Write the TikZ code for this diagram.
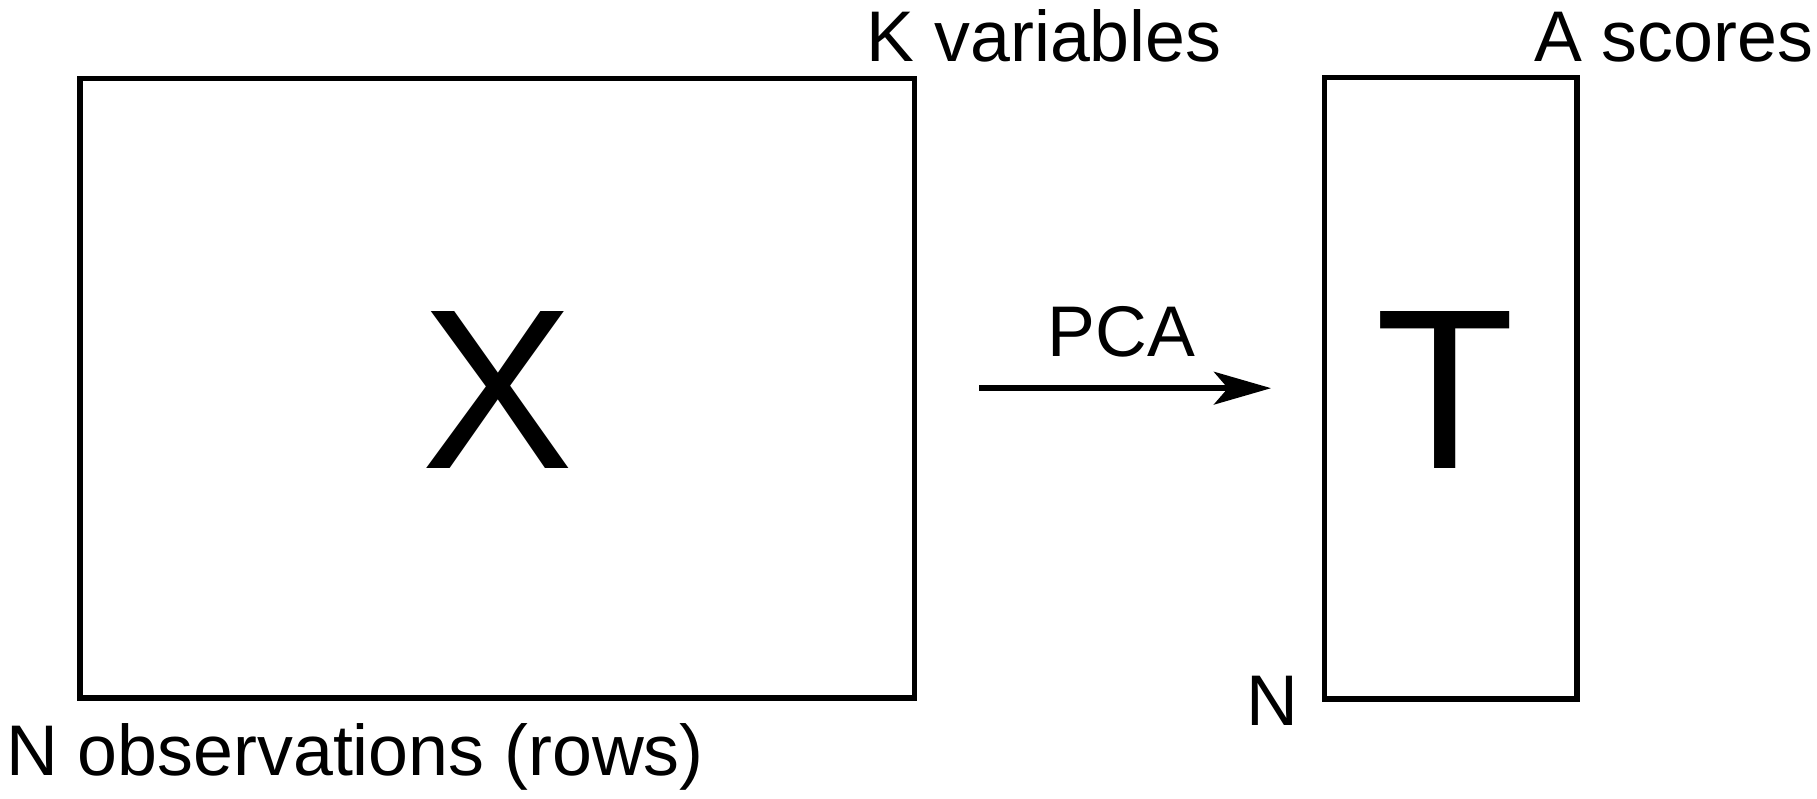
\documentclass[tikz,border=0pt]{standalone}
\usepackage{fontspec}
\setmainfont{Liberation Sans}
\usetikzlibrary{arrows.meta}
\begin{document}
\begin{tikzpicture}[x=0.01cm,y=-0.01cm,
  matbox/.style={draw=black,line width=1.4pt,inner sep=0pt,outer sep=0pt,rectangle},
  lbl/.style={inner sep=0pt,outer sep=0pt,font=\fontsize{17.6}{20}\selectfont},
  big/.style={inner sep=0pt,outer sep=0pt,font=\fontsize{56}{60}\selectfont}]
\useasboundingbox (0,0) rectangle (1568,689);
\node[matbox,minimum width=7.2cm,minimum height=5.34cm] (xbox) at (429,335) {};
\node[matbox,minimum width=2.18cm,minimum height=5.36cm] (tbox) at (1252,335) {};
\node[big,anchor=base] (xl) at (429,404) {X};
\node[big,anchor=base] (tl) at (1247,404) {T};
\node[lbl,anchor=base west] (kvar) at (748,53) {K variables};
\node[lbl,anchor=base west] (asc) at (1324,53) {A scores};
\node[lbl,anchor=base] (pca) at (968,308) {PCA};
\node[lbl,anchor=base west] (nt) at (1076,626) {N};
\node[lbl,anchor=base west] (nobs) at (5.4,669) {N observations (rows)};
\draw[line width=1.5pt,-{Stealth[length=14pt 0 0,width=8pt 0 0,inset=3.4pt]}]
  ([xshift=0.56cm]xbox.east) -- ([xshift=-0.46cm]tbox.west);
\end{tikzpicture}
\end{document}
